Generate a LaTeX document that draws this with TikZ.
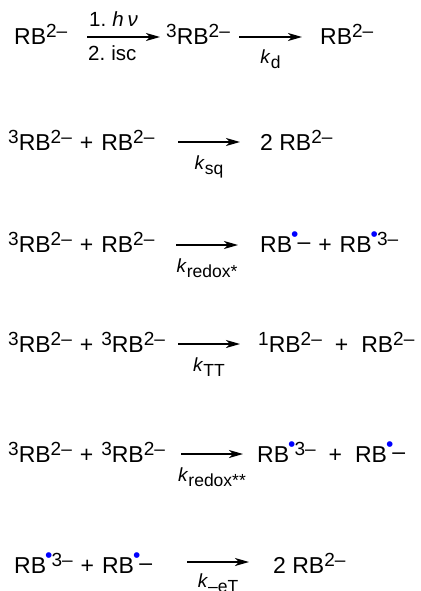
\documentclass[tikz,border=0pt]{standalone}
\usepackage{fontspec}
\setmainfont{Liberation Sans}
\usetikzlibrary{arrows.meta, positioning, calc}

% charges, radical dot and rate constants
\newcommand{\chg}[1]{\raisebox{7pt}{\fontsize{19}{19}\selectfont #1}}
\newcommand{\rad}{\hspace{-1pt}\raisebox{10.5pt}{\fontsize{21}{21}\selectfont\textcolor{blue}{•}}\hspace{-1pt}}
\newcommand{\radminus}{\raisebox{2.5pt}{–}}
\newcommand{\pl}{\hspace{8pt}+\hspace{8pt}}
\newcommand{\wpl}{\hspace{13pt}+\hspace{13pt}}
\newcommand{\krate}[1]{\textit{k}\raisebox{-5pt}{\fontsize{17.5}{17.5}\selectfont #1}}

\begin{document}
\begin{tikzpicture}[
    x=1pt, y=-1pt,
    species/.style={anchor=base west, inner sep=0pt, font=\fontsize{23}{27}\selectfont},
    lbl/.style={anchor=base west, inner sep=0pt, font=\fontsize{20.5}{24}\selectfont},
    klabel/.style={anchor=base, inner sep=0pt, yshift=-27pt, font=\fontsize{19}{22}\selectfont},
    arrow/.style={line width=1.6pt, -{Stealth[length=14pt, width=8pt, inset=4pt]}},
]
    \useasboundingbox (0,0) rectangle (420,591);

    % excitation and decay
    \node (rbA) [species] at (14,45) {RB\chg{2–}};
    \coordinate (exS) at (87,37);
    \coordinate (exE) at (160,37);
    \draw [arrow] (exS) -- (exE);
    \node (hv) [lbl] at (89,27) {1.\hspace{6pt}\textit{h}\hspace{4pt}\textit{ν}};
    \node (isc) [lbl] at (88,61) {2.\hspace{6pt}isc};
    \node (trip) [species] at (166,45) {\chg{3}RB\chg{2–}};
    \coordinate (kdS) at (239,37);
    \coordinate (kdE) at (302,37);
    \draw [arrow] (kdS) -- node (kd) [klabel] {\krate{d}} (kdE);
    \node (rbB) [species] at (320,45) {RB\chg{2–}};

    % self-quenching
    \node (sqL) [species] at (8,150) {\chg{3}RB\chg{2–}\pl RB\chg{2–}};
    \coordinate (sqS) at (178,142);
    \coordinate (sqE) at (240,142);
    \draw [arrow] (sqS) -- node (ksq) [klabel] {\krate{sq}} (sqE);
    \node (sqR) [species] at (260,150) {2 RB\chg{2–}};

    % redox quenching
    \node (rdL) [species] at (8,252) {\chg{3}RB\chg{2–}\pl RB\chg{2–}};
    \coordinate (rdS) at (176,245);
    \coordinate (rdE) at (238,245);
    \draw [arrow] (rdS) -- node (krd) [klabel] {\krate{redox*}} (rdE);
    \node (rdR) [species] at (260,252) {RB\rad\radminus\pl RB\rad\chg{3–}};

    % triplet-triplet annihilation
    \node (ttL) [species] at (8,352) {\chg{3}RB\chg{2–}\pl\chg{3}RB\chg{2–}};
    \coordinate (ttS) at (178,344);
    \coordinate (ttE) at (240,344);
    \draw [arrow] (ttS) -- node (ktt) [klabel] {\krate{TT}} (ttE);
    \node (ttR) [species] at (258,352) {\chg{1}RB\chg{2–}\wpl RB\chg{2–}};

    % triplet-triplet redox
    \node (rrL) [species] at (8,462) {\chg{3}RB\chg{2–}\pl\chg{3}RB\chg{2–}};
    \coordinate (rrS) at (181,454);
    \coordinate (rrE) at (243,454);
    \draw [arrow] (rrS) -- node (krr) [klabel] {\krate{redox**}} (rrE);
    \node (rrR) [species] at (257,462) {RB\rad\chg{3–}\wpl RB\rad\radminus};

    % back electron transfer
    \node (btL) [species] at (14,573) {RB\rad\chg{3–}\pl RB\rad\radminus};
    \coordinate (btS) at (187,562);
    \coordinate (btE) at (249,562);
    \draw [arrow] (btS) -- node (ket) [klabel, yshift=2pt] {\krate{–eT}} (btE);
    \node (btR) [species] at (273,573) {2 RB\chg{2–}};
\end{tikzpicture}
\end{document}
